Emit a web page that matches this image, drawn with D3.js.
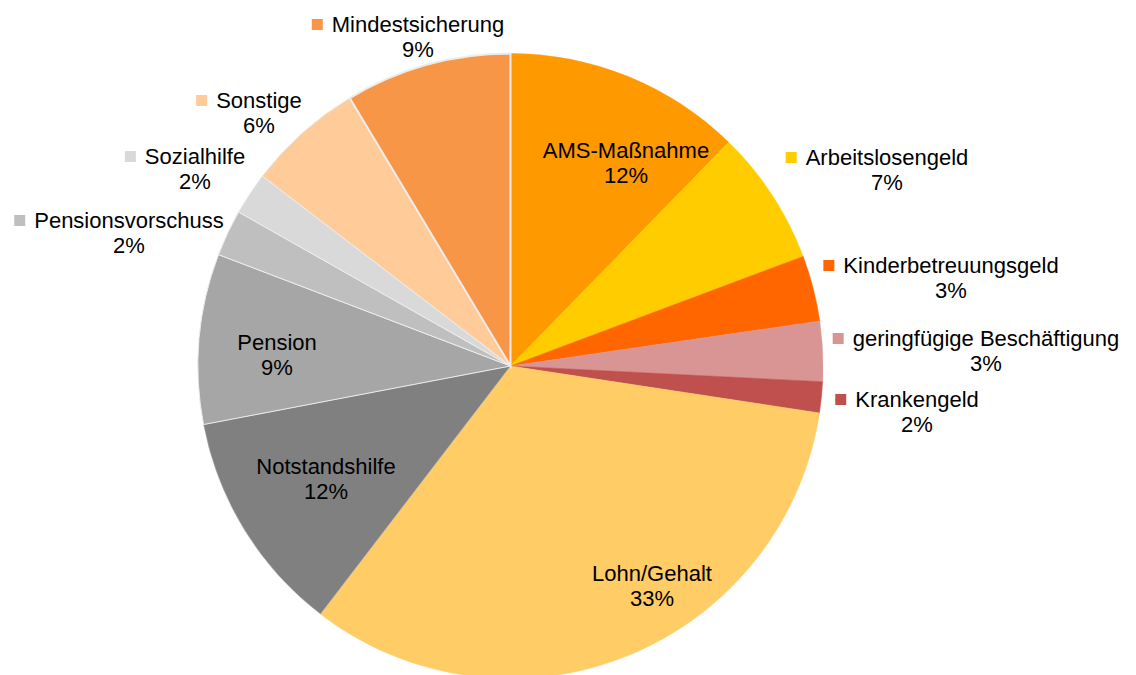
<!DOCTYPE html>
<html>
<head>
<meta charset="utf-8">
<script src="https://cdn.jsdelivr.net/npm/d3@7"></script>
<style>
  html, body { margin: 0; padding: 0; background: #fff; }
  svg { display: block; }
  text { font-family: "Liberation Sans", Arial, sans-serif; fill: #000; }
</style>
</head>
<body>
<svg id="chart" width="1136" height="675"></svg>
<script>
// Data (clockwise from 12 o'clock)
const categories = ["AMS-Maßnahme", "Arbeitslosengeld", "Kinderbetreuungsgeld", "geringfügige Beschäftigung",
  "Krankengeld", "Lohn/Gehalt", "Notstandshilfe", "Pension", "Pensionsvorschuss", "Sozialhilfe",
  "Sonstige", "Mindestsicherung"];
const values = [12.3, 7.0, 3.4, 3.1, 1.6, 33.0, 11.6, 8.8, 2.4, 2.2, 6.0, 8.6];
const colors = ["#FF9900", "#FFCC00", "#FF6600", "#D99594", "#C0504D", "#FFCC66", "#808080",
  "#A6A6A6", "#BFBFBF", "#D9D9D9", "#FFCC99", "#F79646"];
// whether the label carries a legend key (outside labels)
const hasKey = [false, true, true, true, true, false, false, false, true, true, true, true];

// Layout: label text centre x and first baseline y (manually placed labels)
const labelLayout = [
  [626, 158], [887, 165], [951, 273], [986, 346], [917, 407], [652, 581],
  [326, 474], [277, 350], [129, 228], [195, 164], [259, 108], [418, 32]
];

const svg = d3.select("#chart");
const cx = 510.5, cy = 366, R = 312.5;
const total = d3.sum(values);

const pie = d3.pie().sort(null).value(d => d)(values);
const arc = d3.arc().innerRadius(0).outerRadius(R);

const g = svg.append("g").attr("transform", `translate(${cx},${cy})`);
g.selectAll("path.slice").data(pie).enter().append("path")
  .attr("class", "slice")
  .attr("d", arc)
  .attr("fill", (d, i) => colors[i])
  .attr("stroke", (d, i) => i >= 7 ? "#ececec" : (i === 6 ? "#b8b8b8" : colors[i]))
  .attr("stroke-width", (d, i) => i === 11 ? 2 : (i >= 7 ? 1 : 0.5));

const fs = 22, lh = 24.5, keySize = 11, keyGap = 9;
const lab = svg.append("g").attr("class", "labels");
categories.forEach((c, i) => {
  const [x, y] = labelLayout[i];
  const t = lab.append("text")
    .attr("x", x).attr("y", y)
    .attr("text-anchor", "middle")
    .attr("font-size", fs)
    .text(c);
  lab.append("text")
    .attr("x", x).attr("y", y + lh)
    .attr("text-anchor", "middle")
    .attr("font-size", fs)
    .text(Math.round(values[i] / total * 100) + "%");
  if (hasKey[i]) {
    const w = t.node().getComputedTextLength();
    lab.append("rect")
      .attr("x", x - w / 2 - keyGap - keySize)
      .attr("y", y - 13)
      .attr("width", keySize).attr("height", keySize)
      .attr("fill", colors[i]);
  }
});
</script>
</body>
</html>
